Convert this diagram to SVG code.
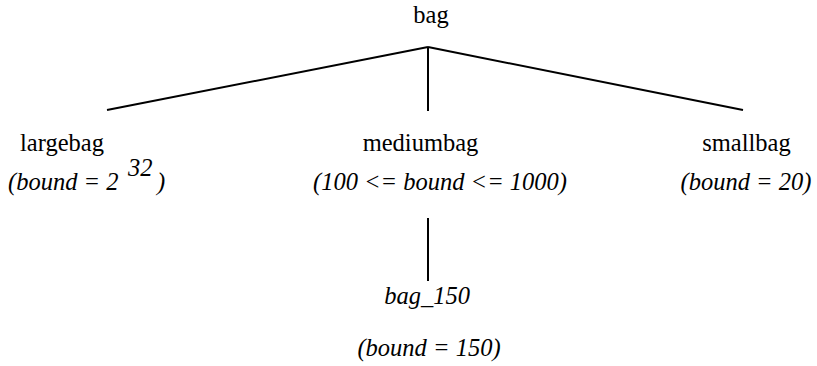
<svg xmlns="http://www.w3.org/2000/svg" width="817" height="366" viewBox="0 0 817 366">
<style>
.t{font-size:24.5px;fill:#000;text-anchor:middle}
.i{font-style:italic}
.s{text-anchor:start}
.c{stroke:#000;stroke-width:2;fill:none}
</style>
<rect width="817" height="366" fill="#fff"/>
<g id="connectors">
<line class="c" x1="428" y1="47" x2="107" y2="110"/>
<line class="c" x1="428" y1="47" x2="428" y2="111"/>
<line class="c" x1="428" y1="47" x2="743" y2="110"/>
<line class="c" x1="428" y1="218" x2="428" y2="281"/>
</g>
<g id="bag"><text class="t" font-family="Liberation Serif" x="431" y="23">bag</text></g>
<g id="largebag"><text class="t" font-family="Liberation Serif" x="62" y="151">largebag</text>
<text class="t i s" font-family="Liberation Serif" x="8" y="190">(bound = 2</text>
<text class="t i s" font-family="Liberation Serif" x="128" y="176">32</text>
<text class="t i s" font-family="Liberation Serif" x="157" y="190">)</text></g>
<g id="mediumbag"><text class="t" font-family="Liberation Serif" x="420.5" y="151">mediumbag</text>
<text class="t i" font-family="Liberation Serif" x="440" y="190">(100 &lt;= bound &lt;= 1000)</text></g>
<g id="smallbag"><text class="t" font-family="Liberation Serif" x="746.5" y="151">smallbag</text>
<text class="t i" font-family="Liberation Serif" x="746" y="190">(bound = 20)</text></g>
<g id="bag_150"><text class="t i" font-family="Liberation Serif" x="427" y="304">bag_150</text>
<text class="t i" font-family="Liberation Serif" x="429" y="356">(bound = 150)</text></g>
</svg>
